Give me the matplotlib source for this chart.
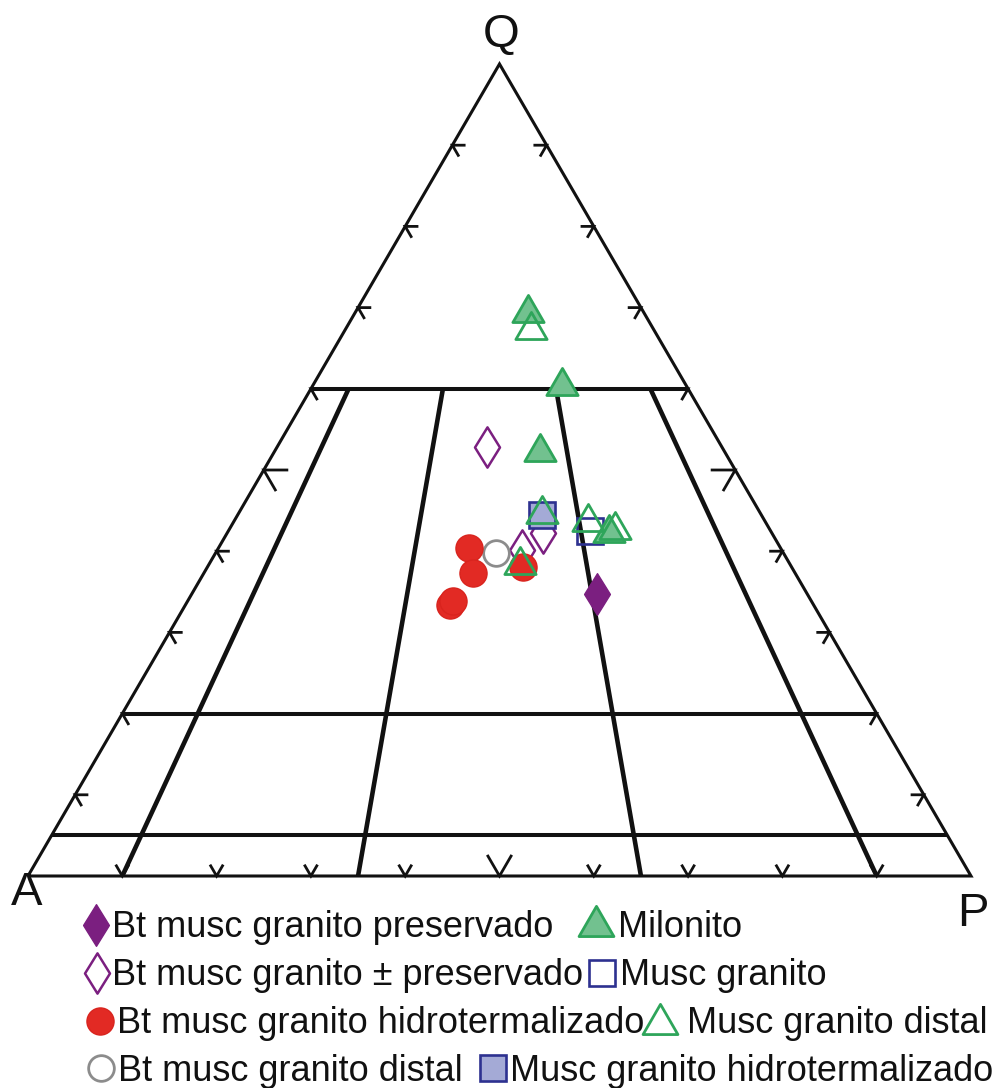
import numpy as np
import matplotlib
matplotlib.use("Agg")
import matplotlib.pyplot as plt
from matplotlib.path import Path

plt.rcParams['font.family'] = ['Liberation Sans', 'DejaVu Sans']

# Modal compositions, Q / A / P in percent
milonito_Q = [69.3, 60.3, 52.2, 42.2]
milonito_A = [12.3, 13.2, 19.6, 17.3]
milonito_P = [18.4, 26.5, 28.2, 40.5]

musc_distal_Q = [67.2, 44.6, 43.6, 42.6, 38.3]
musc_distal_A = [13.1, 23.2, 18.8, 16.5, 28.7]
musc_distal_P = [19.7, 32.2, 37.6, 40.9, 33.0]

musc_granito_Q = [42.5]
musc_granito_A = [19.2]
musc_granito_P = [38.3]

musc_hidro_Q = [44.5]
musc_hidro_A = [23.2]
musc_hidro_P = [32.3]

bt_preservado_Q = [34.7]
bt_preservado_A = [22.3]
bt_preservado_P = [43.0]

bt_pm_preservado_Q = [52.8, 42.2, 40.1]
bt_pm_preservado_A = [24.9, 24.3, 27.6]
bt_pm_preservado_P = [22.3, 33.5, 32.3]

bt_hidro_Q = [40.4, 37.3, 33.4, 33.9, 38.1]
bt_hidro_A = [33.0, 34.2, 38.5, 38.0, 28.5]
bt_hidro_P = [26.6, 28.5, 28.1, 28.1, 33.4]

bt_distal_Q = [39.8]
bt_distal_A = [30.5]
bt_distal_P = [29.7]

# Streckeisen field boundaries
q_levels = [0.60, 0.20, 0.05]
p_ratios = [0.10, 0.35, 0.65, 0.90]
tick_values = [0.1, 0.2, 0.3, 0.4, 0.5, 0.6, 0.7, 0.8, 0.9]

W, H = 996, 1088
fig = plt.figure(figsize=(W / 100, H / 100), dpi=100)
ax = fig.add_axes([0, 0, 1, 1])
ax.set_xlim(-28 / 943, (W - 28) / 943)
ax.set_ylim((876 - H) / 812, 876 / 812)
ax.axis('off')


def tern(q, a, p):
    q, a, p = (np.asarray(v, dtype=float) for v in (q, a, p))
    s = q + a + p
    q, p = q / s, p / s
    return p + q / 2, q


def poly(points, **kw):
    q, a, p = zip(*points)
    x, y = tern(q, a, p)
    ax.plot(x, y, color='#111111', solid_joinstyle='miter',
            solid_capstyle='butt', **kw)


# outer triangle
poly([(0, 1, 0), (0, 0, 1), (1, 0, 0), (0, 1, 0)], lw=2.2, zorder=2)

# horizontal field lines
for ql in q_levels:
    poly([(ql, 1 - ql, 0), (ql, 0, 1 - ql)], lw=2.9, zorder=2)

# P/(A+P) field lines
for r in p_ratios:
    poly([(0, 1 - r, r), (0.6, 0.4 * (1 - r), 0.4 * r)], lw=3.3, zorder=2)

# chevron ticks along the three sides
for t in tick_values:
    L = 0.026 if abs(t - 0.5) < 1e-9 else 0.014
    # left side (A-Q)
    poly([(t, 1 - t - L, L), (t, 1 - t, 0), (t - L, 1 - t, L)], lw=2.0, zorder=2)
    # right side (Q-P)
    poly([(t, L, 1 - t - L), (t, 0, 1 - t), (t - L, L, 1 - t)], lw=2.0, zorder=2)
    # base (A-P)
    poly([(L, 1 - t - L, t), (0, 1 - t, t), (L, 1 - t, t - L)], lw=2.0, zorder=2)

# vertex labels
for label, px, py in [('Q', 501, 47), ('A', 27, 905), ('P', 973, 926)]:
    fig.text(px / W, 1 - py / H, label, fontsize=34, ha='center',
             va='baseline', color='#111111')

# marker shapes
tri = Path([(-1, -0.577), (1, -0.577), (0, 1.155), (-1, -0.577)],
           [Path.MOVETO, Path.LINETO, Path.LINETO, Path.CLOSEPOLY])
dia = Path([(0, 1), (0.62, 0), (0, -1), (-0.62, 0), (0, 1)],
           [Path.MOVETO, Path.LINETO, Path.LINETO, Path.LINETO, Path.CLOSEPOLY])

GREEN_EDGE = '#2ea55a'
GREEN_FILL = '#72c18f'
PURPLE = '#7b1f80'
RED = '#e22a24'
GREY = '#8c8c8c'
NAVY = '#2d3190'
LIGHT_BLUE = '#a4aad6'

styles = {
    'bt_pm': dict(marker=dia, ms=29, mfc='white', mec=PURPLE, mew=1.8),
    'bt_pres': dict(marker=dia, ms=30, mfc=PURPLE, mec=PURPLE, mew=1.0),
    'bt_hidro': dict(marker='o', ms=19.5, mfc=RED, mec='#d9241e', mew=1.0),
    'bt_distal': dict(marker='o', ms=18.5, mfc='white', mec=GREY, mew=2.0),
    'musc_hidro': dict(marker='s', ms=18.5, mfc=LIGHT_BLUE, mec=NAVY, mew=1.9),
    'musc': dict(marker='s', ms=18.5, mfc='none', mec=NAVY, mew=1.9),
    'milonito': dict(marker=tri, ms=26, mfc=GREEN_FILL, mec=GREEN_EDGE, mew=2.0),
    'musc_distal': dict(marker=tri, ms=26, mfc='none', mec=GREEN_EDGE, mew=2.0),
}

series = [
    ('bt_pm', bt_pm_preservado_Q, bt_pm_preservado_A, bt_pm_preservado_P),
    ('bt_distal', bt_distal_Q, bt_distal_A, bt_distal_P),
    ('bt_hidro', bt_hidro_Q, bt_hidro_A, bt_hidro_P),
    ('bt_pres', bt_preservado_Q, bt_preservado_A, bt_preservado_P),
    ('musc_hidro', musc_hidro_Q, musc_hidro_A, musc_hidro_P),
    ('musc', musc_granito_Q, musc_granito_A, musc_granito_P),
    ('milonito', milonito_Q, milonito_A, milonito_P),
    ('musc_distal', musc_distal_Q, musc_distal_A, musc_distal_P),
]
for z, (key, q, a, p) in enumerate(series):
    x, y = tern(q, a, p)
    ax.plot(x, y, ls='none', zorder=5 + z, **styles[key])

# legend, laid out in figure pixels
legend_rows = [
    ('bt_pres', 'Bt musc granito preservado', 96, 925, 112, 937),
    ('milonito', 'Milonito', 596, 926, 618, 937),
    ('bt_pm', 'Bt musc granito ± preservado', 97, 973, 112, 985),
    ('musc', 'Musc granito', 602, 973, 620, 985),
    ('bt_hidro', 'Bt musc granito hidrotermalizado', 100, 1021, 117, 1033),
    ('musc_distal', 'Musc granito distal', 660, 1024, 687, 1033),
    ('bt_distal', 'Bt musc granito distal', 101, 1068, 118, 1081),
    ('musc_hidro', 'Musc granito hidrotermalizado', 493, 1068, 510, 1081),
]
for key, txt, mx, my, tx, ty in legend_rows:
    st = dict(styles[key])
    if key in ('milonito', 'musc_distal'):
        st['ms'] = 29
    ax.plot([mx / W], [1 - my / H], transform=fig.transFigure, ls='none',
            clip_on=False, zorder=10, **st)
    fig.text(tx / W, 1 - ty / H, txt, fontsize=26, ha='left', va='baseline',
             color='#111111')

fig.savefig('out.png', dpi=100, facecolor='white')
